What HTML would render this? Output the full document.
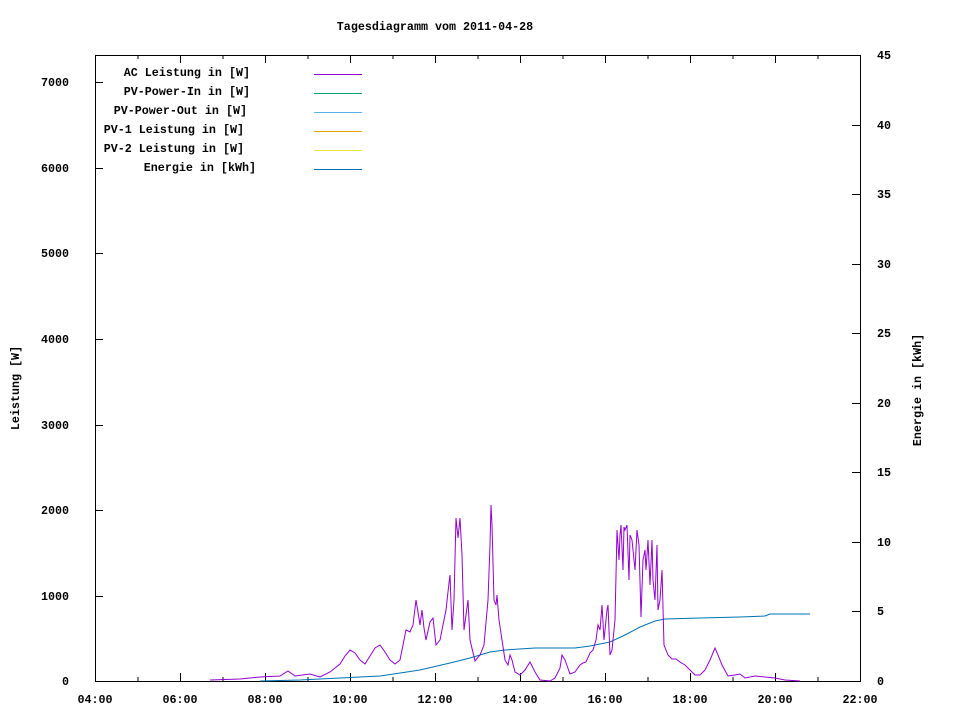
<!DOCTYPE html>
<html><head><meta charset="utf-8"><style>
body{margin:0;background:#fff}
text{font-family:"Liberation Mono","DejaVu Sans Mono",monospace;font-size:11.7px;font-weight:bold;fill:#000}
</style></head><body>
<svg width="960" height="720" xmlns="http://www.w3.org/2000/svg">
<rect width="960" height="720" fill="#fff"/>
<text x="435" y="30" text-anchor="middle">Tagesdiagramm vom 2011-04-28</text>
<rect x="95.5" y="55.5" width="765" height="626" fill="none" stroke="#000"/>
<g stroke="#000">
<path d="M95.5 681v-8M138 681v-4M180.5 681v-8M223 681v-4M265.5 681v-8M308 681v-4M350.5 681v-8M393 681v-4M435.5 681v-8M478 681v-4M520.5 681v-8M563 681v-4M605.5 681v-8M648 681v-4M690.5 681v-8M733 681v-4M775.5 681v-8M818 681v-4M860.5 681v-8
M95.5 55v8M138 55v4M180.5 55v8M223 55v4M265.5 55v8M308 55v4M350.5 55v8M393 55v4M435.5 55v8M478 55v4M520.5 55v8M563 55v4M605.5 55v8M648 55v4M690.5 55v8M733 55v4M775.5 55v8M818 55v4M860.5 55v8"/>
<path d="M95 596.5h8M95 510.5h8M95 425.5h8M95 339.5h8M95 253.5h8M95 168.5h8M95 82.5h8"/>
<path d="M860 611.5h-8M860 542.5h-8M860 472.5h-8M860 403.5h-8M860 333.5h-8M860 264.5h-8M860 194.5h-8M860 125.5h-8M860 55.5h-8"/>
</g>
<g text-anchor="end">
<text x="69" y="685">0</text><text x="69" y="600">1000</text><text x="69" y="514">2000</text><text x="69" y="429">3000</text><text x="69" y="343">4000</text><text x="69" y="257">5000</text><text x="69" y="172">6000</text><text x="69" y="86">7000</text>
</g>
<g text-anchor="start">
<text x="877" y="685">0</text><text x="877" y="615">5</text><text x="877" y="546">10</text><text x="877" y="476">15</text><text x="877" y="407">20</text><text x="877" y="337">25</text><text x="877" y="268">30</text><text x="877" y="198">35</text><text x="877" y="129">40</text><text x="877" y="59">45</text>
</g>
<g text-anchor="middle">
<text x="95" y="703">04:00</text><text x="180" y="703">06:00</text><text x="265" y="703">08:00</text><text x="350" y="703">10:00</text><text x="435" y="703">12:00</text><text x="520" y="703">14:00</text><text x="605" y="703">16:00</text><text x="690" y="703">18:00</text><text x="775" y="703">20:00</text><text x="860" y="703">22:00</text>
</g>
<text transform="translate(19,388) rotate(-90)" text-anchor="middle">Leistung [W]</text>
<text transform="translate(921,390) rotate(-90)" text-anchor="middle">Energie in [kWh]</text>
<g text-anchor="end">
<text x="250" y="76">AC Leistung in [W]</text>
<text x="250" y="95">PV-Power-In in [W]</text>
<text x="247" y="114">PV-Power-Out in [W]</text>
<text x="244" y="133">PV-1 Leistung in [W]</text>
<text x="244" y="152">PV-2 Leistung in [W]</text>
<text x="256" y="171">Energie in [kWh]</text>
</g>
<g stroke-width="1">
<path d="M314 74.5h48" stroke="#9400d3"/>
<path d="M314 93.5h48" stroke="#009e73"/>
<path d="M314 112.5h48" stroke="#56b4e9"/>
<path d="M314 131.5h48" stroke="#e69f00"/>
<path d="M314 150.5h48" stroke="#f0e442"/>
<path d="M314 169.5h48" stroke="#0072b2"/>
</g>
<polyline fill="none" stroke="#0072b2" points="260,681 300,680 340,678 380,676 420,670 450,663 470,658 490,652 505,650 535,648 575,648 590,646 610,642 625,635 640,627 655,621 665,619 700,618 740,617 765,616 770,614 810,614"/>
<polyline fill="none" stroke="#9400d3" points="210,680 240,679 260,677 280,676 288,671 295,676 310,674 320,677 330,672 340,664 345,656 350,650 355,653 360,660 365,664 370,656 375,648 380,645 385,652 390,660 395,664 400,660 403,645 406,630 410,632 413,625 416,600 418,612 420,625 422,610 424,628 426,640 430,622 433,618 436,645 440,640 443,625 446,610 449,583 450,575 452,630 454,600 456,518 458,538 460,518 462,555 464,630 466,615 468,600 470,640 475,661 480,655 484,645 488,600 490,545 491,505 492,525 494,600 496,605 497,595 499,620 502,640 505,660 508,665 510,655 512,660 515,672 520,675 525,670 530,662 535,672 540,680 550,681 555,678 560,668 562,655 565,660 570,674 575,672 580,665 583,663 586,662 590,653 593,650 596,640 598,625 600,630 602,605 604,640 607,610 608,605 610,655 612,650 615,620 617,530 619,560 620,535 621,525 623,570 624,527 625,530 627,525 629,580 630,535 632,540 634,560 635,570 637,530 639,545 641,617 643,560 645,550 646,570 648,540 650,585 652,540 653,580 655,600 657,545 658,610 660,600 662,570 664,645 668,655 672,659 676,659 680,662 685,665 690,670 695,675 700,675 705,670 710,660 715,648 718,655 722,665 728,676 735,675 740,674 745,678 755,676 765,677 775,678 785,680 800,681"/>
</svg>
</body></html>
